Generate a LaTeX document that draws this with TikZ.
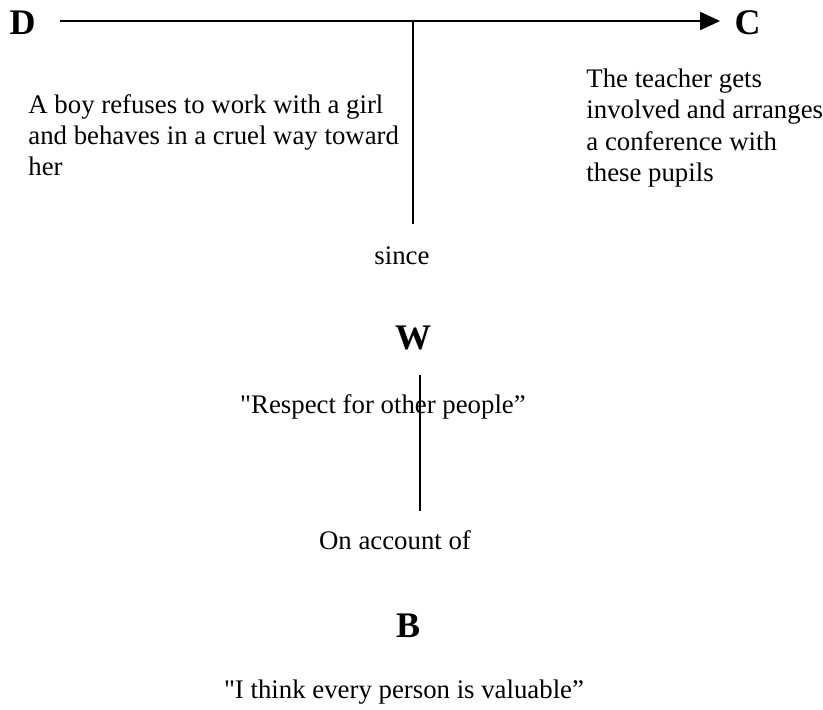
\documentclass[tikz,border=0pt]{standalone}
\usepackage{fontspec}
\setmainfont{Liberation Serif}[Ligatures=TeXOff]
\usetikzlibrary{arrows.meta}
\begin{document}
\begin{tikzpicture}[x=0.5pt,y=-0.5pt,
  txt/.style={font=\fontsize{13.4}{15.6}\selectfont, inner sep=0pt, align=left},
  big/.style={font=\fontsize{18}{20}\selectfont\bfseries, inner sep=0pt},
  ln/.style={line width=1pt}]
\useasboundingbox (0,0) rectangle (823,709);
\node[big] (D) at (22.5,23) {D};
\node[big] (C) at (747.5,23) {C};
\coordinate (top) at (413,21);
\coordinate (bot) at (413,224);
\draw[ln,-{Triangle[length=10pt,width=9pt]}] ([xshift=12pt]D.east |- top) -- ([xshift=-7pt]C.west |- top);
\draw[ln] (top) -- (bot);
\node[txt, anchor=west] (data) at (28,135) {A boy refuses to work with a girl\\and behaves in a cruel way toward\\her};
\node[txt, anchor=west] (claim) at (586,128) {The teacher gets\\involved and arranges\\a conference with\\these pupils};
\node[txt] (since) at (402,256) {since};
\node[big] (W) at (413,338) {W};
\node[txt] (wtext) at (383,407) {"Respect for other people”};
\coordinate (wtop) at (420,375);
\coordinate (wbot) at (420,511);
\draw[ln] (wtop) -- (wbot);
\node[txt] (onacc) at (395,540) {On account of};
\node[big] (B) at (408,626) {B};
\node[txt] (btext) at (404,692) {"I think every person is valuable”};
\end{tikzpicture}
\end{document}
